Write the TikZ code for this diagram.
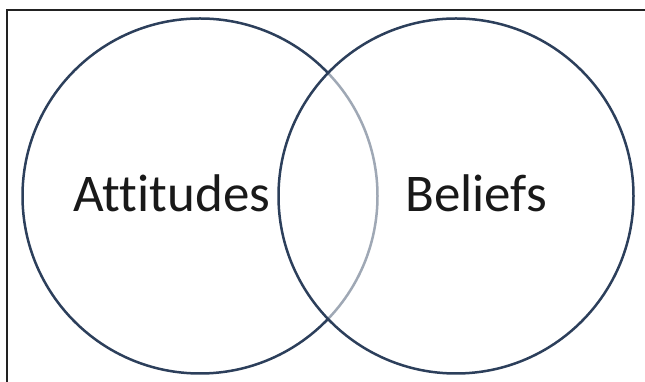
\documentclass[tikz,border=0pt]{standalone}
\usepackage{fontspec}
\setmainfont[Ligatures=NoCommon]{Carlito}
\usepackage{tikz}

\definecolor{ringblue}{HTML}{2C3F5B}
\definecolor{framegray}{HTML}{222222}

\begin{document}
\begin{tikzpicture}[
  x=1pt, y=1pt,
  ring/.style={draw=ringblue, circle, line width=2.5pt, inner sep=0pt,
               minimum size=355pt},
  label/.style={anchor=base, inner sep=0pt, text=black!90,
                font=\fontsize{53}{60}\selectfont},
  frame/.style={draw=framegray, line width=2pt}
]
  \useasboundingbox (0,0) rectangle (645,382);

  % frame on left and top
  \coordinate (fbot) at (7,0);
  \coordinate (fcorner) at (7,372);
  \coordinate (fright) at (645,372);
  \draw[frame] (fbot) -- (fcorner) -- (fright);

  \node[ring] (attitudes) at (200,186) {};
  \node[ring, fill=white, fill opacity=0.55] (beliefs) at (456,186) {};

  \node[label] (atttext) at (172,170) {Attitudes};
  \node[label] (beltext) at (476,170) {Beliefs};
\end{tikzpicture}
\end{document}
